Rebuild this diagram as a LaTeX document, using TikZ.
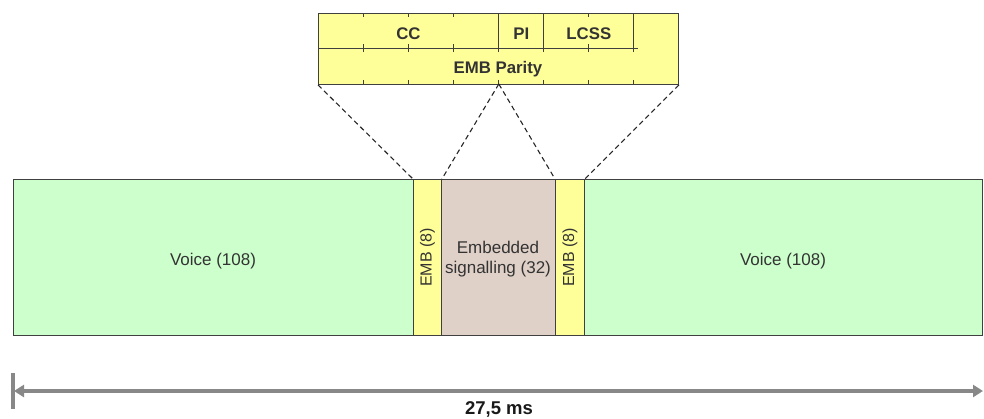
\documentclass[tikz,border=0pt]{standalone}
\usepackage{fontspec}
\setmainfont{Liberation Sans}
\usetikzlibrary{arrows.meta}
\definecolor{vgreen}{HTML}{CCFFCC}
\definecolor{embyel}{HTML}{FFFF99}
\definecolor{sigbeige}{HTML}{E0D1C8}
\definecolor{edge}{HTML}{404040}
\definecolor{dimgray}{HTML}{888888}
\begin{document}
\begin{tikzpicture}[x=1pt,y=-1pt,
  field/.style={draw=edge,line width=0.9pt,inner sep=0pt,anchor=north west},
  lbl/.style={font=\fontsize{17}{20}\selectfont,text=black!80,inner sep=0pt,anchor=base},
  emblbl/.style={font=\fontsize{16}{20}\selectfont,text=black!80,inner sep=0pt,rotate=90},
  blbl/.style={font=\bfseries\fontsize{16.8}{20}\selectfont,text=black!80,inner sep=0pt,anchor=base},
  dashconn/.style={draw=black!85,line width=1.1pt,dash pattern=on 5pt off 3.5pt},
  tickmark/.style={draw=edge,line width=0.8pt}]
\useasboundingbox (0,0) rectangle (984,418);
% main bar
\node[field,fill=vgreen,minimum width=400pt,minimum height=156pt] (v1) at (13,179) {};
\node[field,fill=embyel,minimum width=28pt,minimum height=156pt] (e1) at (413,179) {};
\node[field,fill=sigbeige,minimum width=114pt,minimum height=156pt] (sig) at (441,179) {};
\node[field,fill=embyel,minimum width=29pt,minimum height=156pt] (e2) at (555,179) {};
\node[field,fill=vgreen,minimum width=398pt,minimum height=156pt] (v2) at (584,179) {};
\node[lbl] (t1) at (213,265) {Voice (108)};
\node[lbl] (t2) at (783,265) {Voice (108)};
\node[emblbl] (t3) at (e1.center) {EMB (8)};
\node[emblbl] (t4) at (e2.center) {EMB (8)};
\node[lbl] (t5) at (498,253) {Embedded};
\node[lbl] (t6) at (498,273) {signalling (32)};
% top structure
\node[field,fill=embyel,minimum width=360pt,minimum height=71pt] (tb) at (318,13) {};
\draw[draw=edge,line width=0.9pt] (318,48) -- (638,48);
\draw[draw=edge,line width=0.9pt] (498.8,13) -- (498.8,48);
\draw[draw=edge,line width=0.9pt] (543.8,13) -- (543.8,48);
\draw[draw=edge,line width=0.9pt] (633.8,13) -- (633.8,48);
\foreach \t in {363.2,408.4,453.6,588.8}{
  \draw[tickmark] (\t,13) -- (\t,17);
}
\foreach \t in {363.2,408.4,453.6,498.8,543.8,588.8,633.8}{
  \draw[tickmark] (\t,44) -- (\t,52);
  \draw[tickmark] (\t,84) -- (\t,80);
}
\node[blbl] (cc) at (408.4,39) {CC};
\node[blbl] (pi) at (521.3,39) {PI};
\node[blbl] (lcss) at (588.8,39) {LCSS};
\node[blbl] (par) at (498,73) {EMB Parity};
% dashed connectors
\coordinate (apex) at (498.8,84);
\draw[dashconn] (tb.south west) -- (e1.north west);
\draw[dashconn] (apex) -- (e1.north east);
\draw[dashconn] (apex) -- (e2.north west);
\draw[dashconn] (tb.south east) -- (e2.north east);
% duration arrow
\coordinate (tl) at (13,373);
\coordinate (tlb) at (13,409);
\coordinate (al) at (14,391);
\coordinate (ar) at (983,391);
\draw[dimgray,line width=3.5pt] (tl) -- (tlb);
\draw[dimgray,line width=3.5pt,{Triangle[length=10pt,width=12pt]}-{Triangle[length=10pt,width=12pt]}] (al) -- (ar);
\node[font=\bfseries\fontsize{18.5}{22}\selectfont,text=black!90,inner sep=0pt,anchor=base] (dur) at (499,414) {27,5 ms};
\end{tikzpicture}
\end{document}
